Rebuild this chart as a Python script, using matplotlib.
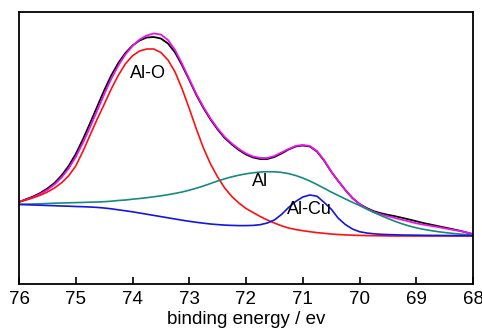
import matplotlib
matplotlib.use('Agg')
import matplotlib.pyplot as plt

# binding energy grid (eV)
energy = [76.0, 75.875, 75.75, 75.625, 75.5, 75.375, 75.25, 75.125, 75.0,
          74.875, 74.75, 74.625, 74.5, 74.375, 74.25, 74.125, 74.0,
          73.875, 73.75, 73.625, 73.5, 73.375, 73.25, 73.125, 73.0,
          72.875, 72.75, 72.625, 72.5, 72.375, 72.25, 72.125, 72.0,
          71.875, 71.75, 71.625, 71.5, 71.375, 71.25, 71.125, 71.0,
          70.875, 70.75, 70.625, 70.5, 70.375, 70.25, 70.125, 70.0,
          69.875, 69.75, 69.625, 69.5, 69.375, 69.25, 69.125, 69.0,
          68.875, 68.75, 68.625, 68.5, 68.375, 68.25, 68.125, 68.0]

# measured spectrum
raw = [82, 84.8, 87.5, 91, 95.5, 101, 108.5, 118, 130,
       144.5, 160.5, 177, 193.5, 208.5, 221, 231, 238.5,
       243.5, 246.5, 247, 245.5, 240.5, 231.5, 218.5, 204,
       189, 176, 164.5, 154.5, 146, 139.5, 134, 129.5,
       126.5, 125, 125, 127, 130.5, 134.5, 137.5, 138.5,
       137.5, 132.5, 123.5, 112.5, 103, 94, 86, 80,
       76, 72.8, 70.8, 69.2, 67.8, 66.2, 64.5, 62.8,
       61, 59.5, 58, 56.5, 55, 53.5, 51.7, 49.8]

# fitted envelope
fitSum = [82.3, 84.3, 86.8, 90, 94.2, 99.5, 106.5, 115.5, 127,
          141, 156.5, 173, 189.5, 205, 218.5, 229.5, 238,
          244.5, 248.5, 250.5, 249.5, 244, 234, 220, 205,
          190, 177, 165.5, 155.5, 147, 140.5, 135, 130.5,
          127.5, 126, 126, 128, 131.5, 135, 138, 139,
          138, 133, 124, 112.5, 103, 94, 86, 80,
          75.5, 72, 69.7, 67.7, 66, 64.2, 62.5, 60.7,
          59.4, 58.2, 57, 55.7, 54.4, 53.2, 51.7, 50]

# components
alO = [82, 84, 86.2, 88.8, 92, 96, 101.2, 108.2, 118,
       132.5, 148.5, 164.5, 179.5, 195, 208.7, 220.2, 228.2,
       233, 235, 235, 231.5, 224, 212, 195, 175.5,
       155, 136, 120, 107, 96, 87.5, 81, 75.5,
       71.5, 67.5, 64, 61, 58.2, 56, 54.5, 53.3,
       52.3, 51.4, 50.7, 50, 49.5, 49.1, 48.8, 48.6,
       48.4, 48.3, 48.2, 48.1, 48, 48, 48, 48,
       48, 48, 48, 48, 48, 48, 48, 48]
al = [79.7, 79.8, 80, 80.2, 80.5, 80.8, 81, 81.2, 81.4,
      81.6, 81.8, 82, 82.3, 82.8, 83.5, 84, 84.8,
      85.5, 86.3, 87.2, 88.2, 89.3, 90.6, 92, 93.8,
      95.8, 98, 100.5, 103, 105.2, 107.2, 108.8, 110.2,
      111.2, 112, 112.3, 112.2, 111.6, 110.4, 108.5, 106,
      103, 99.5, 95.8, 92, 88.5, 85, 81.7, 78.5,
      75, 71.6, 68.5, 65.5, 62.7, 60.2, 58, 56.2,
      54.7, 53.5, 52.4, 51.5, 50.7, 50, 49.4, 49]
alCu = [79.5, 79.3, 79, 78.8, 78.5, 78.3, 78, 77.8, 77.5,
        77.3, 77, 76.6, 76, 75.2, 74.2, 73.2, 72.2,
        71, 69.8, 68.6, 67.4, 66.2, 65, 63.8, 62.7,
        61.7, 60.8, 60, 59.4, 58.9, 58.6, 58.4, 58.4,
        58.6, 59.3, 61, 64, 69.5, 76.5, 82.5, 87,
        89, 87.8, 81.7, 75, 65.8, 59.5, 55, 52.3,
        51, 50.2, 49.7, 49.4, 49.2, 49, 48.9, 48.8,
        48.7, 48.6, 48.6, 48.5, 48.5, 48.4, 48.4, 48.3]

xTicks = [76, 75, 74, 73, 72, 71, 70, 69, 68]

fontFam = ['Liberation Sans', 'DejaVu Sans']

fig = plt.figure(figsize=(4.82, 3.30), dpi=100)
ax = fig.add_axes([19 / 482, 1 - 284 / 330, 454 / 482, 272 / 330])

ax.plot(energy, raw, color='black', lw=1.3)
ax.plot(energy, fitSum, color='#ee10ee', lw=1.3)
ax.plot(energy, alO, color='#ff1010', lw=1.2)
ax.plot(energy, al, color='#17897f', lw=1.2)
ax.plot(energy, alCu, color='#1515e0', lw=1.2)

ax.text(73.73, 211, 'Al-O', ha='center', va='center', fontsize=13, family=fontFam)
ax.text(71.75, 103, 'Al', ha='center', va='center', fontsize=13, family=fontFam)
ax.text(70.89, 74, 'Al-Cu', ha='center', va='center', fontsize=13, family=fontFam)

ax.set_xlim(76, 68)
ax.set_ylim(0, 272)
ax.set_xticks(xTicks)
ax.set_xticklabels([str(t) for t in xTicks], family=fontFam, fontsize=13.5)
ax.set_yticks([])
ax.tick_params(axis='x', direction='in', length=5, width=1.2, pad=5)
for s in ax.spines.values():
    s.set_linewidth(1.3)
ax.set_xlabel('binding energy / ev', family=fontFam, fontsize=13.5, labelpad=2)

fig.savefig('out.png', dpi=100)
